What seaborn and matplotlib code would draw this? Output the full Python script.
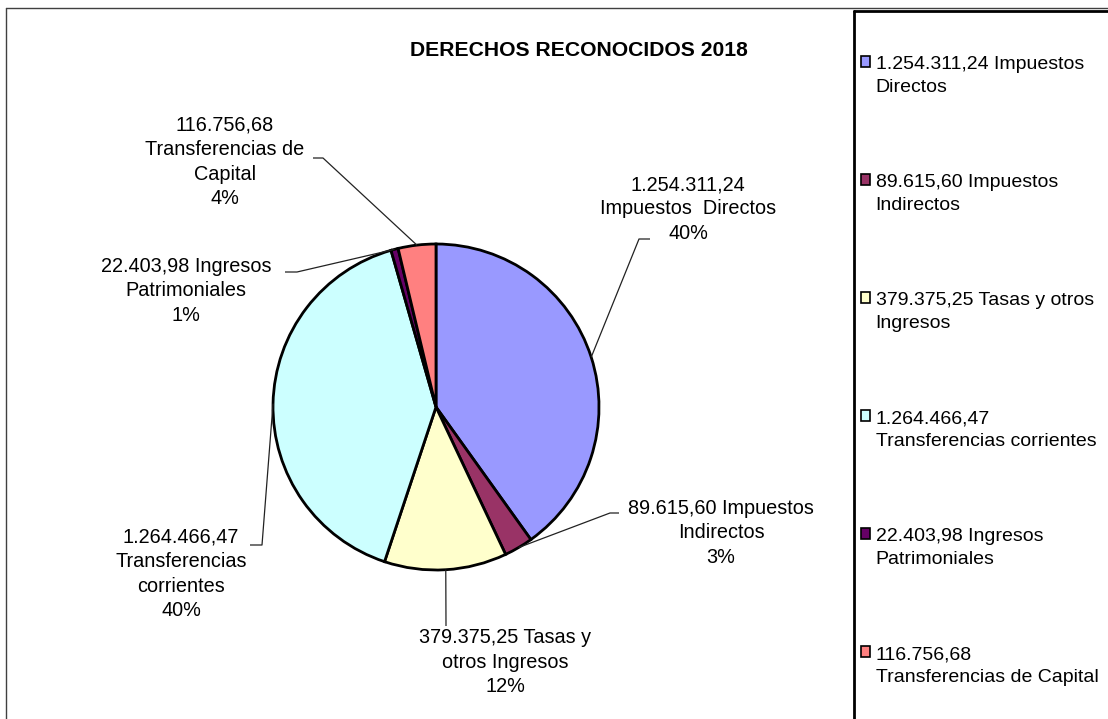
import numpy as np
import matplotlib
matplotlib.use("Agg")
import matplotlib.pyplot as plt
import seaborn as sns

# Data
categories = [
    "Impuestos Directos",
    "Impuestos Indirectos",
    "Tasas y otros Ingresos",
    "Transferencias corrientes",
    "Ingresos Patrimoniales",
    "Transferencias de Capital",
]
amounts = [1254311.24, 89615.60, 379375.25, 1264466.47, 22403.98, 116756.68]
amount_labels = ["1.254.311,24", "89.615,60", "379.375,25",
                 "1.264.466,47", "22.403,98", "116.756,68"]
colors = ["#9999FF", "#993366", "#FFFFCC", "#CCFFFF", "#660066", "#FF8080"]

# Data label texts (line breaks as in the reference)
slice_labels = [
    "1.254.311,24\nImpuestos  Directos\n40%",
    "89.615,60 Impuestos\nIndirectos\n3%",
    "379.375,25 Tasas y\notros Ingresos\n12%",
    "1.264.466,47\nTransferencias\ncorrientes\n40%",
    "22.403,98 Ingresos\nPatrimoniales\n1%",
    "116.756,68\nTransferencias de\nCapital\n4%",
]
legend_labels = [
    "1.254.311,24 Impuestos\nDirectos",
    "89.615,60 Impuestos\nIndirectos",
    "379.375,25 Tasas y otros\nIngresos",
    "1.264.466,47\nTransferencias corrientes",
    "22.403,98 Ingresos\nPatrimoniales",
    "116.756,68\nTransferencias de Capital",
]

sns.set_theme(style="white")
plt.rcParams["font.family"] = ["Liberation Sans", "DejaVu Sans"]

W, H = 1108, 719
fig = plt.figure(figsize=(W / 100, H / 100), dpi=100)
ax = fig.add_axes([0, 0, 1, 1])

# pie in pixel coordinates (y axis points down)
cx, cy, r = 436, 407, 163
pal = sns.color_palette(colors)
wedges, _ = ax.pie(
    amounts,
    colors=pal,
    startangle=-90,
    counterclock=True,
    center=(cx, cy),
    radius=r,
    wedgeprops=dict(edgecolor="black", linewidth=2.0),
)
ax.set_xlim(0, W)
ax.set_ylim(H, 0)
ax.set_aspect("equal")
ax.axis("off")

# label layout: text centre, elbow point, end of short horizontal tick
label_pos = [(688, 209), (721, 533), (505, 662), (181, 574), (186, 291), (225, 162)]
elbows = [[(639, 239), (650, 239)],
          [(610, 513), (619, 513)],
          [(446, 626)],
          [(262, 545), (250, 545)],
          [(297, 272), (285, 272)],
          [(323, 158), (313, 158)]]
fs = 14.3
for w, txt, pos, elb in zip(wedges, slice_labels, label_pos, elbows):
    ang = np.deg2rad((w.theta1 + w.theta2) / 2)
    ax0 = cx + r * np.cos(ang)
    ay0 = cy + r * np.sin(ang)
    xs = [ax0] + [p[0] for p in elb]
    ys = [ay0] + [p[1] for p in elb]
    ax.plot(xs, ys, color="#222222", lw=0.9, solid_capstyle="butt")
    ax.text(pos[0], pos[1], txt, ha="center", va="center", fontsize=fs,
            linespacing=1.36, color="black")

ax.text(579, 51, "DERECHOS RECONOCIDOS 2018", ha="center", va="center",
        fontsize=15.2, fontweight="bold", color="black")

# chart area border (cropped at right/bottom) and legend box
ax.plot([6, W], [8, 8], color="#404040", lw=1.0)
ax.plot([6, 6], [8, H], color="#404040", lw=1.0)
ax.plot([854, 854], [11, H], color="black", lw=2.0)
ax.plot([854, W], [11, 11], color="black", lw=2.0)

leg = ax.legend(
    wedges, legend_labels,
    loc="upper left", bbox_to_anchor=(861, 56), bbox_transform=ax.transData,
    frameon=False, fontsize=14, labelspacing=4.02,
    handlelength=0.45, handleheight=0.45, handletextpad=0.3,
    borderpad=0, borderaxespad=0,
)
for t in leg.get_texts():
    t.set_color("black")
    t.set_linespacing(1.45)
for p in leg.get_patches():
    p.set_edgecolor("black")
    p.set_linewidth(1.2)
    p.set_y(p.get_y() + 0.72 * 14)

fig.savefig("out.png", dpi=100)
